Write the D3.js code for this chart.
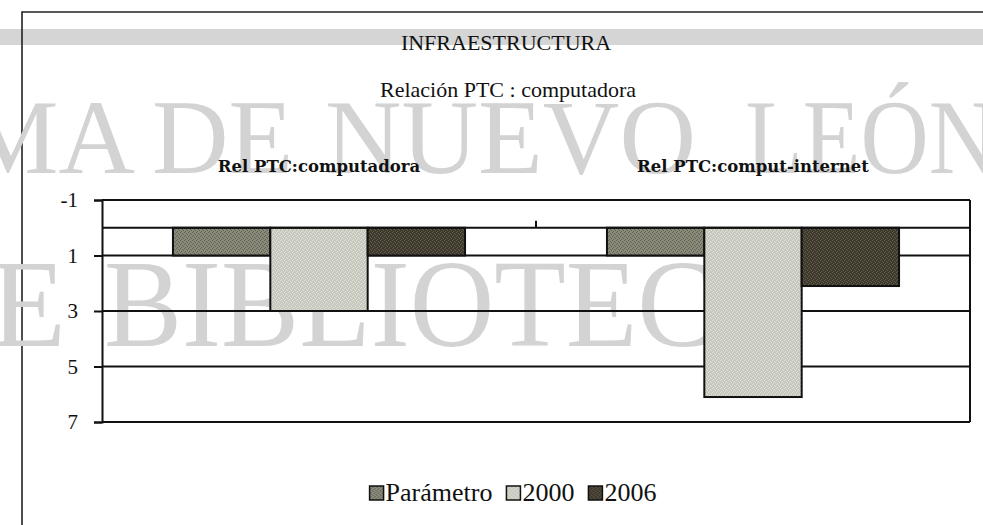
<!DOCTYPE html>
<html lang="es">
<head>
<meta charset="utf-8" />
<title>INFRAESTRUCTURA - Relación PTC : computadora</title>
<style>
html, body {
	margin: 0;
	padding: 0;
	background: #fff;
}
svg {
	display: block;
}
text {
	font-family: "Liberation Serif", "Times New Roman", serif;
	fill: #111;
}
</style>
</head>
<body>
<svg width="983" height="525"></svg>

<script src="https://cdn.jsdelivr.net/npm/d3@7/dist/d3.min.js"></script>
<script>

// datos
var categories = ["Rel PTC:computadora", "Rel PTC:comput-internet"];
var seriesNames = ["Parámetro", "2000", "2006"];
var parametro = [1, 1];
var v2000 = [3, 6.1];
var v2006 = [1, 2.1];
var yTicks = [-1, 1, 3, 5, 7];

var colors = ["#8b8b7b", "#c6c7bd", "#3c3a2f"];
var speckle = ["#5f5f52", "#e2e2da", "#6a5a48"];

var svg = d3.select("svg");
var W = 983, H = 525;

//tabla para las barras
var table = [];
categories.forEach(function(c, i){
	table.push({cat: c, serie: seriesNames[0], v: parametro[i]});
	table.push({cat: c, serie: seriesNames[1], v: v2000[i]});
	table.push({cat: c, serie: seriesNames[2], v: v2006[i]});
});

//tramas punteadas como en la impresion
var defs = svg.append("defs");
var dots = [[0,0],[2,1],[1,3],[3,2]];
seriesNames.forEach(function(s, i){
	var p = defs.append("pattern").attr("id", "pat" + i)
		.attr("width", 4).attr("height", 4).attr("patternUnits", "userSpaceOnUse");
	p.append("rect").attr("width", 4).attr("height", 4).attr("fill", colors[i]);
	p.selectAll("rect.d").data(dots).enter().append("rect").attr("class", "d")
		.attr("x", function(d){ return d[0]; }).attr("y", function(d){ return d[1]; })
		.attr("width", 1).attr("height", 1).attr("fill", speckle[i]);
});

var plot = {left: 102, right: 970, top: 200, bottom: 422};

var x = d3.scaleBand().domain(categories)
	.range([plot.left, plot.right])
	.paddingInner(0.327).paddingOuter(0.1635);
var xs = d3.scaleBand().domain(seriesNames).range([0, x.bandwidth()]);
//eje invertido: -1 arriba, 7 abajo
var y = d3.scaleLinear().domain([-1, 7]).range([plot.top, plot.bottom]);

//marco de la pagina escaneada
svg.append("rect").attr("x", 0).attr("y", 29).attr("width", W).attr("height", 16)
	.attr("fill", "#d5d5d5");
svg.append("path").attr("d", "M22,525V12H983")
	.attr("fill", "none").attr("stroke", "#222").attr("stroke-width", 1.6);

//marca de agua (palabras sueltas, ancho ajustado)
var wm = svg.append("g").style("font-size", "106px");
[["MA", 135, "end", 0], ["DE", 152, "start", 0], ["NUEVO", 325, "start", 0], ["LEÓN", 745, "start", 252]]
	.forEach(function(w){
		var t = wm.append("text").attr("x", w[1]).attr("y", 173).attr("text-anchor", w[2])
			.style("fill", "#d3d3d3").text(w[0]);
		if (w[3]) t.attr("textLength", w[3]).attr("lengthAdjust", "spacingAndGlyphs");
	});
wm.append("text").attr("x", 66).attr("y", 346).attr("text-anchor", "end")
	.style("font-size", "124px").style("fill", "#d3d3d3").text("DE");
wm.append("text").attr("x", 104).attr("y", 346)
	.attr("textLength", 696).attr("lengthAdjust", "spacingAndGlyphs")
	.style("font-size", "124px").style("fill", "#d3d3d3").text("BIBLIOTECA");

//titulo
svg.append("text").attr("x", 506).attr("y", 50).attr("text-anchor", "middle")
	.style("font-size", "22px").text("INFRAESTRUCTURA");
svg.append("text").attr("x", 508).attr("y", 97).attr("text-anchor", "middle")
	.style("font-size", "22px").text("Relación PTC : computadora");

//etiquetas de categoria arriba
svg.selectAll(".cat").data(categories).enter().append("text")
	.attr("class", "cat")
	.attr("x", function(d){ return x(d) + x.bandwidth() / 2; })
	.attr("y", 172)
	.attr("text-anchor", "middle")
	.style("font-family", "'DejaVu Serif', serif")
	.style("font-weight", "bold")
	.style("font-size", "16.5px")
	.text(function(d){ return d; });

//lineas de division
var grid = svg.append("g").attr("stroke", "#111").attr("stroke-width", 2);
grid.selectAll("line").data(yTicks).enter().append("line")
	.attr("x1", plot.left).attr("x2", plot.right)
	.attr("y1", function(d){ return y(d); })
	.attr("y2", function(d){ return y(d); });
grid.append("line").attr("x1", plot.right).attr("x2", plot.right)
	.attr("y1", plot.top).attr("y2", plot.bottom);

//barras
svg.append("g").selectAll("rect").data(table).enter().append("rect")
	.attr("x", function(d){ return x(d.cat) + xs(d.serie); })
	.attr("y", function(d){ return y(Math.min(0, d.v)); })
	.attr("width", xs.bandwidth())
	.attr("height", function(d){ return Math.abs(y(d.v) - y(0)); })
	.attr("fill", function(d){ return "url(#pat" + seriesNames.indexOf(d.serie) + ")"; })
	.attr("stroke", "#111").attr("stroke-width", 2);

//eje de categorias en 0
svg.append("line").attr("x1", plot.left).attr("x2", plot.right)
	.attr("y1", y(0)).attr("y2", y(0))
	.attr("stroke", "#111").attr("stroke-width", 2);
var between = x(categories[1]) - x.step() * x.paddingInner() / 2;
svg.append("line").attr("x1", between).attr("x2", between)
	.attr("y1", y(0)).attr("y2", y(0) - 7)
	.attr("stroke", "#111").attr("stroke-width", 2);

//eje y
var yAxis = d3.axisLeft(y).tickValues(yTicks).tickSize(8).tickPadding(16)
	.tickFormat(function(d){ return String(d).replace("\u2212", "-"); });
var ya = svg.append("g").attr("transform", "translate(" + plot.left + ",0)").call(yAxis);
ya.attr("font-family", null).attr("font-size", null);
ya.select(".domain").attr("stroke", "#111").attr("stroke-width", 2);
ya.selectAll(".tick line").attr("stroke", "#111").attr("stroke-width", 2);
ya.selectAll(".tick text").style("font-size", "21px").attr("fill", null);

//leyenda
var leg = svg.append("g");
var lxPos = 0, gap = 14;
seriesNames.forEach(function(s, i){
	var g = leg.append("g").attr("transform", "translate(" + lxPos + ",0)");
	g.append("rect").attr("y", -7).attr("width", 14).attr("height", 14)
		.attr("fill", "url(#pat" + i + ")")
		.attr("stroke", "#111").attr("stroke-width", 1.5);
	var t = g.append("text").attr("x", 16).attr("y", 8)
		.style("font-size", "26px").text(s);
	lxPos += 16 + t.node().getComputedTextLength() + gap;
});
leg.attr("transform", "translate(" + (513 - (lxPos - gap) / 2) + ",493)");

</script>
</body>
</html>
